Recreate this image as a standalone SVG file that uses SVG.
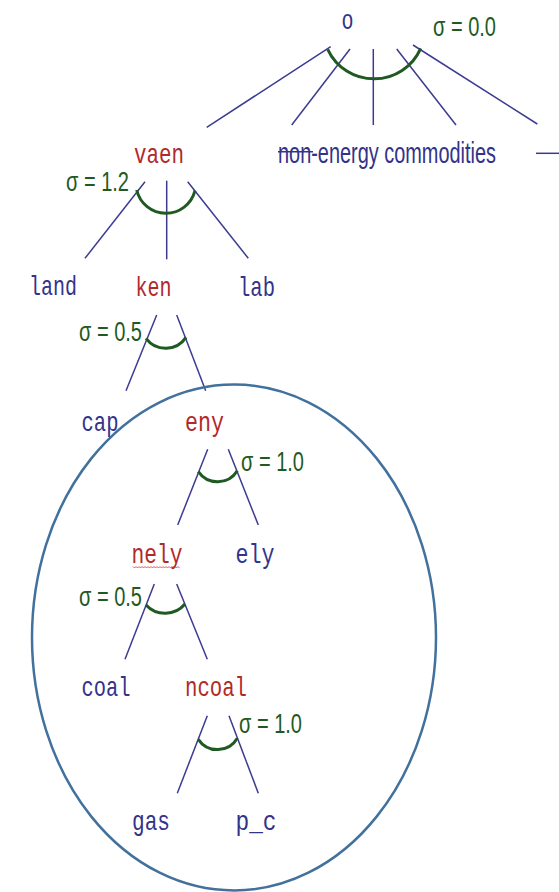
<svg xmlns="http://www.w3.org/2000/svg" width="559" height="892" viewBox="0 0 559 892">
<style>
.ln{stroke:#3b3b92;stroke-width:1.5;fill:none}
.arc{stroke:#1f5a22;stroke-width:3;fill:none}
.mono{font-family:"Courier New","Liberation Mono",monospace;font-size:28px}
.blue{fill:#33338a}
.red{fill:#b02a2a}
.sig{font-family:"Liberation Sans",Arial,sans-serif;font-size:28px;fill:#1f5a22}
.sans{font-family:"Liberation Sans",Arial,sans-serif;font-size:29px;fill:#33338a}
</style>
<rect width="559" height="892" fill="#ffffff"/>
<g id="connectors">
  <line class="ln" x1="330.7" y1="46.7" x2="206.7" y2="127.3"/>
  <line class="ln" x1="350" y1="49" x2="291.7" y2="125"/>
  <line class="ln" x1="373.3" y1="49" x2="373.3" y2="125"/>
  <line class="ln" x1="396.7" y1="49" x2="456" y2="125"/>
  <line class="ln" x1="413" y1="45" x2="537.3" y2="124"/>
  <line class="ln" x1="536" y1="153.3" x2="559" y2="153.3"/>
  <line class="ln" x1="145" y1="181.7" x2="85" y2="258.3"/>
  <line class="ln" x1="166.7" y1="180.7" x2="166.7" y2="259.3"/>
  <line class="ln" x1="187.7" y1="181.7" x2="248.3" y2="258.3"/>
  <line class="ln" x1="156.7" y1="315" x2="126" y2="390.7"/>
  <line class="ln" x1="176.7" y1="315" x2="205.7" y2="390.7"/>
  <line class="ln" x1="207.7" y1="449.3" x2="177.7" y2="525"/>
  <line class="ln" x1="228.3" y1="449.3" x2="258.3" y2="525"/>
  <line class="ln" x1="154.3" y1="584" x2="125" y2="659.3"/>
  <line class="ln" x1="176.7" y1="584" x2="207.3" y2="659.3"/>
  <line class="ln" x1="207.3" y1="715.7" x2="177.3" y2="793.3"/>
  <line class="ln" x1="229" y1="715.7" x2="258.3" y2="793.3"/>
  <path class="arc" d="M327.7,49.3 A51,51 0 0 0 420.7,48.3"/>
  <path class="arc" d="M136.7,190 A30,30 0 0 0 195,190.7"/>
  <path class="arc" d="M146,338.3 A24.5,24.5 0 0 0 186,337.3"/>
  <path class="arc" d="M198.3,471.7 A23.3,23.3 0 0 0 237.3,470.7"/>
  <path class="arc" d="M146,605 A26,26 0 0 0 185,604"/>
  <path class="arc" d="M198.3,739.3 A23,23 0 0 0 237.3,738.3"/>
</g>
<g id="region">
  <ellipse cx="234" cy="637.5" rx="202" ry="253" fill="none" stroke="#41719c" stroke-width="2.5"/>
</g>
<g id="node-o"><text class="mono blue" x="341.5" y="29" textLength="12" lengthAdjust="spacingAndGlyphs">o</text>
  <text class="sig" x="433" y="36" textLength="63" lengthAdjust="spacingAndGlyphs">σ = 0.0</text></g>
<g id="node-nonenergy"><text class="sans" x="278" y="163" textLength="218" lengthAdjust="spacingAndGlyphs">non-energy commodities</text>
  <line x1="278" y1="151.7" x2="313" y2="151.7" stroke="#33338a" stroke-width="1.5"/></g>
<g id="node-vaen"><text class="mono red" x="134" y="163" textLength="50" lengthAdjust="spacingAndGlyphs">vaen</text>
  <text class="sig" x="66" y="191" textLength="63" lengthAdjust="spacingAndGlyphs">σ = 1.2</text></g>
<g id="node-land"><text class="mono blue" x="29" y="295" textLength="48" lengthAdjust="spacingAndGlyphs">land</text></g>
<g id="node-ken"><text class="mono red" x="135.5" y="296" textLength="36" lengthAdjust="spacingAndGlyphs">ken</text>
  <text class="sig" x="79" y="341" textLength="63" lengthAdjust="spacingAndGlyphs">σ = 0.5</text></g>
<g id="node-lab"><text class="mono blue" x="238" y="296" textLength="37" lengthAdjust="spacingAndGlyphs">lab</text></g>
<g id="node-cap"><text class="mono blue" x="81.5" y="431" textLength="37" lengthAdjust="spacingAndGlyphs">cap</text></g>
<g id="node-eny"><text class="mono red" x="185" y="431" textLength="39" lengthAdjust="spacingAndGlyphs">eny</text>
  <text class="sig" x="241" y="471" textLength="63" lengthAdjust="spacingAndGlyphs">σ = 1.0</text></g>
<g id="node-nely"><text class="mono red" x="131.5" y="563" textLength="51" lengthAdjust="spacingAndGlyphs">nely</text>
  <path d="M133,566.5 l1.5,1.5 l1.5,-1.5 l1.5,1.5 l1.5,-1.5 l1.5,1.5 l1.5,-1.5 l1.5,1.5 l1.5,-1.5 l1.5,1.5 l1.5,-1.5 l1.5,1.5 l1.5,-1.5 l1.5,1.5 l1.5,-1.5 l1.5,1.5 l1.5,-1.5 l1.5,1.5 l1.5,-1.5 l1.5,1.5 l1.5,-1.5 l1.5,1.5 l1.5,-1.5 l1.5,1.5 l1.5,-1.5 l1.5,1.5 l1.5,-1.5 l1.5,1.5 l1.5,-1.5 l1.5,1.5 l1.5,-1.5 l1.5,1.5" fill="none" stroke="#e03030" stroke-width="0.8"/>
  <text class="sig" x="79" y="606" textLength="63" lengthAdjust="spacingAndGlyphs">σ = 0.5</text></g>
<g id="node-ely"><text class="mono blue" x="235.5" y="563" textLength="39" lengthAdjust="spacingAndGlyphs">ely</text></g>
<g id="node-coal"><text class="mono blue" x="81.5" y="696" textLength="49" lengthAdjust="spacingAndGlyphs">coal</text></g>
<g id="node-ncoal"><text class="mono red" x="185" y="696" textLength="62" lengthAdjust="spacingAndGlyphs">ncoal</text>
  <text class="sig" x="239" y="733" textLength="63" lengthAdjust="spacingAndGlyphs">σ = 1.0</text></g>
<g id="node-gas"><text class="mono blue" x="132" y="830" textLength="38" lengthAdjust="spacingAndGlyphs">gas</text></g>
<g id="node-pc"><text class="mono blue" x="235.5" y="830" textLength="41" lengthAdjust="spacingAndGlyphs">p_c</text></g>
</svg>
